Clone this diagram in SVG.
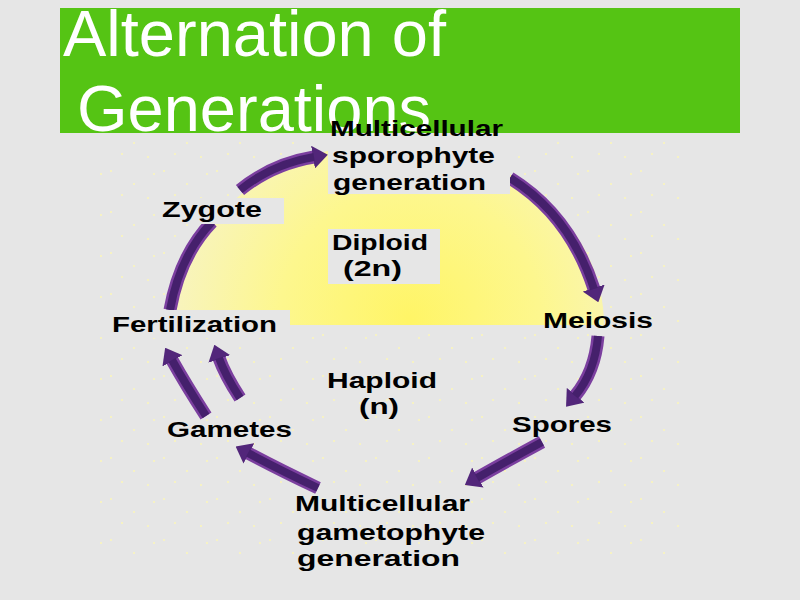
<svg xmlns="http://www.w3.org/2000/svg" width="800" height="600" viewBox="0 0 800 600">
  <defs>
    <style>
      .title { font-family: "Liberation Sans", Arial, sans-serif; font-size: 65px; fill: #ffffff; }
      .lbl { font-family: "Liberation Sans", Arial, sans-serif; font-size: 22px; font-weight: bold; fill: #000000; }
      .box { fill: #e6e6e6; }
      .shaft { fill: none; stroke: #7b3f9f; stroke-width: 13; stroke-linecap: butt; }
      .core { fill: none; stroke: #45206c; stroke-width: 8; stroke-linecap: butt; }
    </style>
    <radialGradient id="dome" gradientUnits="userSpaceOnUse" cx="410" cy="320" r="290">
      <stop offset="0" stop-color="#fff566"/>
      <stop offset="0.45" stop-color="#fdf78e"/>
      <stop offset="0.8" stop-color="#f8f4bc"/>
      <stop offset="1" stop-color="#f3f1d6"/>
    </radialGradient>
    <pattern id="speckle" patternUnits="userSpaceOnUse" width="53" height="41">
      <rect x="4" y="6" width="2" height="2" fill="#f6f2c4"/>
      <rect x="27" y="19" width="2" height="2" fill="#f6f2c4"/>
      <rect x="41" y="33" width="2" height="2" fill="#f6f2c4"/>
      <rect x="15" y="30" width="2" height="2" fill="#f6f2c4"/>
      <rect x="47" y="9" width="2" height="2" fill="#f6f2c4"/>
    </pattern>
    <marker id="head" markerUnits="userSpaceOnUse" markerWidth="15" markerHeight="23" viewBox="0 0 15 23" refX="1" refY="11.5" orient="auto">
      <path d="M0,0 L15,11.5 L0,23 z" fill="#52267a"/>
    </marker>
  </defs>

  <rect x="0" y="0" width="800" height="600" fill="#e6e6e6"/>
  <rect x="100" y="135" width="580" height="420" fill="url(#speckle)"/>

  <g id="title">
    <rect x="60" y="8" width="680" height="125" fill="#55c414"/>
    <text class="title" x="63" y="56">Alternation of</text>
    <text class="title" x="77" y="131">Generations</text>
  </g>

  <path id="diploid-region" d="M176,325 A214,182 0 0 1 604,325 Z" fill="url(#dome)"/>

  <g id="connectors">
    <path class="shaft" d="M170,310 Q180,255 212,222"/>
    <path class="core" d="M170,310 Q180,255 212,222"/>
    <path class="shaft" d="M240,190 Q272,164 314,157" marker-end="url(#head)"/>
    <path class="core" d="M240,190 Q272,164 314,157"/>
    <path class="shaft" d="M510,178 Q570,215 594,289" marker-end="url(#head)"/>
    <path class="core" d="M510,178 Q570,215 594,289"/>
    <path class="shaft" d="M598,336 Q595,372 575,396" marker-end="url(#head)"/>
    <path class="core" d="M598,336 Q595,372 575,396"/>
    <path class="shaft" d="M542,442 Q505,462 477,478" marker-end="url(#head)"/>
    <path class="core" d="M542,442 Q505,462 477,478"/>
    <path class="shaft" d="M318,488 Q280,470 248,453" marker-end="url(#head)"/>
    <path class="core" d="M318,488 Q280,470 248,453"/>
    <path class="shaft" d="M206,416 Q186,385 172,360" marker-end="url(#head)"/>
    <path class="core" d="M206,416 Q186,385 172,360"/>
    <path class="shaft" d="M240,398 Q225,375 219,358" marker-end="url(#head)"/>
    <path class="core" d="M240,398 Q225,375 219,358"/>
  </g>

  <g id="sporophyte">
    <rect class="box" x="328" y="133" width="182" height="61"/>
    <text class="lbl" x="330" y="136" textLength="173" lengthAdjust="spacingAndGlyphs">Multicellular</text>
    <text class="lbl" x="332" y="163" textLength="163" lengthAdjust="spacingAndGlyphs">sporophyte</text>
    <text class="lbl" x="333" y="190" textLength="153" lengthAdjust="spacingAndGlyphs">generation</text>
  </g>

  <g id="zygote">
    <rect class="box" x="157" y="198" width="127" height="26"/>
    <text class="lbl" x="162" y="217" textLength="100" lengthAdjust="spacingAndGlyphs">Zygote</text>
  </g>

  <g id="diploid">
    <rect class="box" x="328" y="229" width="112" height="55"/>
    <text class="lbl" x="332" y="250" textLength="96" lengthAdjust="spacingAndGlyphs">Diploid</text>
    <text class="lbl" x="343" y="276" textLength="59" lengthAdjust="spacingAndGlyphs">(2n)</text>
  </g>

  <g id="fertilization">
    <rect class="box" x="108" y="310" width="182" height="28"/>
    <text class="lbl" x="112" y="332" textLength="165" lengthAdjust="spacingAndGlyphs">Fertilization</text>
  </g>

  <g id="meiosis">
    <text class="lbl" x="543" y="328" textLength="110" lengthAdjust="spacingAndGlyphs">Meiosis</text>
  </g>

  <g id="haploid">
    <text class="lbl" x="327" y="388" textLength="110" lengthAdjust="spacingAndGlyphs">Haploid</text>
    <text class="lbl" x="359" y="414" textLength="40" lengthAdjust="spacingAndGlyphs">(n)</text>
  </g>

  <g id="spores">
    <text class="lbl" x="512" y="432" textLength="100" lengthAdjust="spacingAndGlyphs">Spores</text>
  </g>

  <g id="gametes">
    <text class="lbl" x="167" y="437" textLength="125" lengthAdjust="spacingAndGlyphs">Gametes</text>
  </g>

  <g id="gametophyte">
    <text class="lbl" x="295" y="511" textLength="175" lengthAdjust="spacingAndGlyphs">Multicellular</text>
    <text class="lbl" x="297" y="540" textLength="188" lengthAdjust="spacingAndGlyphs">gametophyte</text>
    <text class="lbl" x="297" y="566" textLength="163" lengthAdjust="spacingAndGlyphs">generation</text>
  </g>
</svg>
